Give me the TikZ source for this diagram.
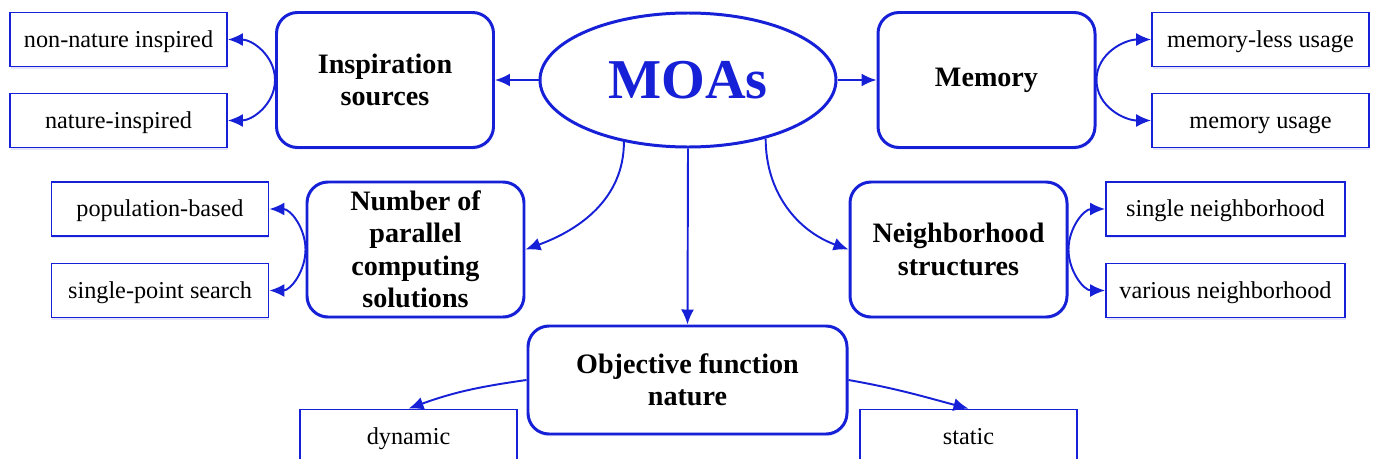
\documentclass[tikz,border=0pt]{standalone}
\usepackage{fontspec}
\setmainfont{Liberation Serif}
\usetikzlibrary{arrows.meta, shapes, shadows}
\usepackage{xcolor}
\definecolor{moablue}{RGB}{22,32,214}

\tikzset{
  catbox/.style={draw=moablue, line width=1.7pt, rounded corners=0.42cm, fill=white,
    minimum width=4.34cm, minimum height=2.7cm, align=center,
    font=\fontsize{16}{18.5}\selectfont\bfseries,
    drop shadow={shadow xshift=0.4pt, shadow yshift=-1.2pt, fill=moablue, opacity=0.12}},
  leafbox/.style={draw=moablue, line width=1pt, fill=white,
    minimum width=4.34cm, minimum height=1.08cm,
    text height=8.8pt, text depth=0pt,
    font=\fontsize{13.8}{16}\selectfont,
    drop shadow={shadow xshift=0.4pt, shadow yshift=-1.2pt, fill=moablue, opacity=0.12}},
  link/.style={draw=moablue, line width=1.1pt, -{Latex[length=3mm, width=2.6mm]}}
}

\begin{document}
\begin{tikzpicture}
  \useasboundingbox (0,0) rectangle (27.5,-9.18);

  % centre
  \node[ellipse, draw=moablue, line width=1.7pt, fill=white, inner sep=0pt,
        minimum width=5.92cm, minimum height=2.68cm,
        text=moablue, font=\fontsize{32}{36}\selectfont\bfseries] (moa) at (13.76,-1.6) {MOAs};

  % categories
  \node[catbox] (insp) at (7.7,-1.6) {Inspiration\\sources};
  \node[catbox] (mem) at (19.73,-1.6) {Memory};
  \node[catbox] (numpar) at (8.31,-4.99) {Number of\\parallel\\computing\\solutions};
  \node[catbox] (nbhood) at (19.17,-4.99) {Neighborhood\\structures};
  \node[catbox, minimum width=6.38cm, minimum height=2.16cm] (objfun) at (13.75,-7.6) {Objective function\\nature};

  % leaves
  \node[leafbox] (nonnat) at (2.37,-0.79) {non-nature inspired};
  \node[leafbox] (natinsp) at (2.37,-2.41) {nature-inspired};
  \node[leafbox] (memless) at (25.21,-0.79) {memory-less usage};
  \node[leafbox] (memuse) at (25.21,-2.41) {memory usage};
  \node[leafbox] (popbased) at (3.2,-4.18) {population-based};
  \node[leafbox] (singlept) at (3.2,-5.81) {single-point search};
  \node[leafbox, minimum width=4.78cm] (singlenb) at (24.51,-4.18) {single neighborhood};
  \node[leafbox, minimum width=4.78cm] (variousnb) at (24.51,-5.81) {various neighborhood};
  \node[leafbox] (dynamic) at (8.17,-8.73) {dynamic};
  \node[leafbox] (static) at (19.37,-8.73) {static};

  % from the centre
  \draw[link] (moa.west) -- (insp.east);
  \draw[link] (moa.east) -- (mem.west);
  \draw[link] (moa.south) -- (objfun.north);
  \draw[link] (moa.-136) to[out=-90, in=20] (numpar.east);
  \draw[link] (moa.-37) to[out=-90, in=160] (nbhood.west);

  % splits to the left
  \foreach \src/\up/\down in {insp/nonnat/natinsp, numpar/popbased/singlept} {
      \draw[link] (\src.west) to[out=90, in=0] (\up.east);
      \draw[link] (\src.west) to[out=-90, in=0] (\down.east);
    }
  % splits to the right
  \foreach \src/\up/\down in {mem/memless/memuse, nbhood/singlenb/variousnb} {
      \draw[link] (\src.east) to[out=90, in=180] (\up.west);
      \draw[link] (\src.east) to[out=-90, in=180] (\down.west);
    }

  % objective function
  \draw[link] (objfun.west) to[out=188, in=20] (dynamic.north);
  \draw[link] (objfun.east) to[out=-10, in=165] (static.north);
\end{tikzpicture}
\end{document}
